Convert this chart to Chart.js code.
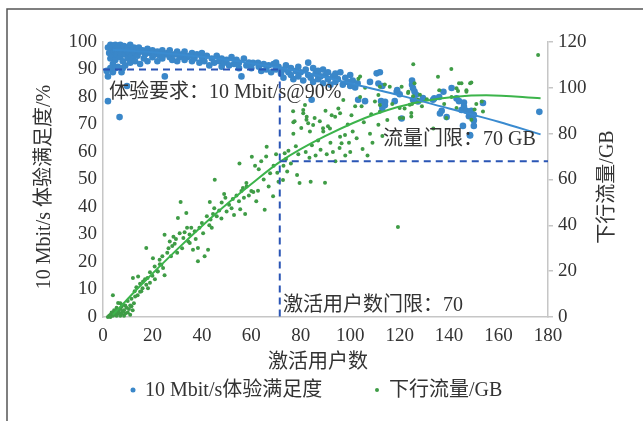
<!DOCTYPE html>
<html>
<head>
<meta charset="utf-8">
<script src="https://cdn.jsdelivr.net/npm/chart.js@4/dist/chart.umd.min.js"></script>
<style>
  html, body { margin: 0; padding: 0; background: #fff; }
  #wrap { width: 643px; height: 421px; }
</style>
</head>
<body>
<div id="wrap"><canvas id="myChart" width="643" height="421"></canvas></div>
<script>
// 10 Mbit/s satisfaction (%) against active users
var satisfactionPoints = [
  [2,98],[2.5,96],[3,99],[3,94],[3.5,97],[4,98.5],[4,95],[4,92],[4.5,96.5],[5,99],[5,97],[5,93.5],
  [5.5,95.5],[6,98],[6,96],[6,91],[6.5,97.5],[7,94.5],[7,99],[7.5,96],[8,97.5],[8,93],[8.5,98.5],
  [9,95.5],[9,91.5],[9.5,97],[10,98],[10,94],[10.5,96],[11,99],[11,92.5],[11.5,95],[12,97],[12,94],
  [12.5,98],[13,96],[13,93],[13.5,97.5],[14,95],[14.5,98],[15,96.5],[15,92],
  [2,78.5],[2,87.5],[1.5,89.5],[4,89],[6.7,72.7],[7.5,89],[9.7,84],[3,90.5],[5,90.5],[8,90.5],
  [16,97],[16.5,94],[17,95.5],[18,97.5],[18,93],[19,96],[20,94.5],[20,97],[21,95.5],[22,96.5],
  [22,93],[23,95],[24,97],[24,94],[25,95.5],[25,87.5],[26,96],[27,94.5],[27,97],[28,93.5],[29,95.5],
  [30,96.5],[30,93],[31,94.5],[32,95.5],[33,93.5],[33,96.5],[34,94.5],[35,95],[36,93],[36,96],
  [37,94],[38,95.5],[39,92.5],[40,94.5],[40,96],
  [41,93],[42,95],[43,91.5],[44,94],[45,92.5],[46,95],[47,93],[48,91],[48,94],[49,92.5],[50,93.5],
  [51,91.5],[52,94.5],[53,92],[54,93.5],[55,90.5],[55,92.5],[56,87.5],[57,94],[58,91.5],[59,92.5],
  [60,90.5],[60.7,92.4],[62.7,92.4],[63,91],[64,89.5],[65,92],[66,90],[67,91.5],[68,89],[69,92],
  [70,92.5],[70,90],
  [71,91],[72,88.5],[73,90],[73,87],[74,91.5],[75,89],[76,88],[76,90.5],[77,86.5],[78,89.5],[79,91],
  [79,87.5],[80,89],[81,86],[82,90],[83,92.5],[83,88],[84,87],[84.4,79],[85,90.5],[85,85.5],[86,88.5],
  [87,89.5],[87,86.5],[88,87.5],[89,90],[89,85],[90,88],[91,86.5],[91,89],[92,84.5],[93,87.5],
  [94,88.5],[94,85.5],[95,86.5],[96,89],[97,84.5],[98,87],[99,85.5],[100,88],[100,84],[101,86],
  [102,83.5],[103,85],[103.2,79],[106,78.5],
  [108,85.5],[110.7,88.6],[112,89],[111.4,84.9],[113,84],[112.5,78.5],[113,76],[114,77],[114.1,78.3],
  [118,78.5],[118.8,81.9],[119,82.5],[120,81],[120.8,72.2],[125,86],[125,84.5],[125.4,83.2],[126,82],
  [126.7,80.8],[125.4,79],[127.4,78.4],[129.4,79.6],
  [133.5,79],[134,79.5],[136,80],[136.3,74],[137,75],[137.7,81.9],[139,72.7],[141,83.3],[143,79.5],
  [144,78.5],[145,75.3],[146,78],[146,76.5],[147,75],[148,73],[148.4,66.2],[149,75],[150,73.5],
  [150,71.5],[150,69.5],[145.6,69.5],[148.5,66],[153.7,77.8],[176.5,74.6]
];

// downlink traffic (GB) against active users
var trafficPoints = [
  [2,0],[2.5,0.5],[3,1],[3,0],[3.5,2],[4,0.5],[4,1.5],[4,9.5],[4.5,3],[5,1],[5,2.5],[5.5,0.5],
  [5.5,4],[6,1.5],[6,3],[6.1,6.1],[6.5,2],[7,0.5],[7,3.5],[7,6],[7.5,1.5],[7.5,4.5],[8,2.5],[8.1,5.4],
  [8.5,0.5],[8.5,3],[9,5],[9,1.5],[9.5,4],[10,2],[10,7],[10.5,3.5],[11,5],[11,1],[11.5,4.7],[11.5,8],
  [12,3],[12.1,17],[12.5,6],[12.8,11.2],[13,9],
  [13.5,13],[14,9.5],[14.2,17.7],[15,11],[15,14.5],[15.5,11.2],[16,12.5],[16.2,15.5],[17,16.5],
  [17.5,14.1],[17.5,30.1],[18,17],[18.2,12.6],[19,15],[19,19.5],[20,18],[20.2,25.6],[20.9,22],
  [21,16.5],[22,20],[22.2,19.9],[22.9,25],[23,23],[23.6,22.8],[24,26.5],[24.3,21.4],[24.9,18.2],
  [24.9,35.9],
  [26,28],[26.5,30],[27,33],[27.5,26.5],[28,31],[28.5,35],[29,32],[29.5,34],[30,28],[30.3,43.2],
  [31,36.5],[31.4,50.2],[32,30],[32.5,34.5],[33,37],[33.7,45.4],[34,39],[34.5,33],[35,36],[35.1,32.3],
  [35.7,38.9],[36.4,29.4],[37.1,37.4],[37.5,34],[38.4,30.1],[38.4,24.3],[39,39],[40,41],[40.5,36.5],
  [41.1,26.5],[42,44],[42.5,29.4],[43,40],[43.2,50.2],[43.5,42.5],[44,38.9],[44.5,45],[45,47.5],
  [45.2,59.9],
  [46,44],[47,46.5],[47.9,43],[48,50],[49,53.7],[49.5,52],[50,46],[51,49],[52,47.5],[52.5,51.5],
  [53,44.5],[54,53],[55,50.5],[55.2,67],[55.5,47],[56,55],[56.6,56.3],[57,52],[57.5,45],[58,58.5],
  [58.1,56.9],[59,53],[60,55],[60.2,69.9],[60.8,54.6],[61.5,66],[62,50.5],[62.7,55.1],[63,64.5],
  [64,68],[65,60],[65.4,46.8],[66,70],[66.2,74.3],[67,57],[67.6,62.7],[68.8,52.7],[69,66],[70,71],
  [70.5,63],[71,59],
  [72.8,59.8],[73,66],[73.5,71.5],[74,69],[74.5,63.5],[75,72.5],[76,67],[76.9,89.8],[77,80],[77,85],
  [77.5,85.4],[78,74.5],[78.5,62],[79,71],[79.5,58.5],[80.2,82.5],[81,88.9],[81,90.3],[81.7,92.5],
  [82,72],[82.3,86.1],[82.4,87.4],[83,84.5],[83.5,69.5],[83.7,80.9],[84,59],[84.5,75],[85,83.8],
  [85.6,86.8],[86,70.5],[87,77],[87.7,85.4],[88,73],[89,82.4],[89.1,80.9],[89.8,58.6],[90,90],
  [90.5,71],[91,83.2],[91.8,82.3],[92,76],[92.5,88],[93,72],[93.9,87.4],[94,68],[95.2,91],[95.7,73.7],
  [95.9,78.7],[95.9,88.9],[96.5,75.8],[97.2,94.7],[97.9,79.4],[98,70.5],[99,84],[99.5,76],
  [100,72],[100.5,88],[101,81],[102,92],[102.6,78],[103.3,104],[104,105],[104,96],[104.6,92],
  [105,73.3],[105.5,85],[106,100],[107,70.5],[108,80],[108.5,88.5],[109,76],[110,94],[111.4,96.9],
  [111.4,83.9],[112,100.5],[112,92.5],[112,89.6],[113,79],[114,101.5],[115,86],[116,100.5],[117,93],
  [119.3,39.3],[120,91.2],[120,86.8],[120.8,100.5],[121.4,86.8],[122,91],[123.4,97.7],[123.5,98.3],
  [124.1,92.6],[124.7,89],[124.7,87.5],[125,93],[125.5,110.3],[125.4,96.3],[126,102],[127.4,94.8],
  [128.2,97],[129,92],
  [131,95],[133.6,82.3],[135.5,104.8],[136,99],[138,93],[138.9,86.8],[140.9,108.2],[141,96],
  [143,91.2],[143,99.8],[143.6,98.6],[144,102],[145,102],[147,98.9],[147,98.3],[148.5,102],
  [149,102.3],[149,86.1],[150.3,90.5],[151,93],[153.7,89.7],[153.2,94],[176,114.3]
];

// trend lines
var trendUsers = [4, 20, 40, 60, 80, 100, 120, 140, 160, 177];
var satisfactionTrend = [97.2, 96.3, 94.6, 92.3, 89.2, 85.0, 80.6, 75.8, 71.0, 66.4];
var trafficTrendUsers = [4, 15, 30, 45, 60, 72, 90, 110, 130, 155, 177];
var trafficTrend = [1, 13.5, 29.5, 44.5, 58, 68, 79, 88.5, 94.3, 96.8, 95.5];

// thresholds (dashed guides)
var userLimit = 71.5;
var satisfactionReq = 90;
var trafficLimit = 68;

var userTicks = [0, 180, 20];
var pctTicks = [0, 100, 10];
var gbTicks = [0, 120, 20];

var blue = "#3a87c9";
var green = "#3f9c46";
var dashBlue = "#2a55b5";
var textColor = "#333";
var axisGray = "#c6c6c6";
var serif = '"Liberation Serif", "Noto Sans CJK SC", serif';

function toXY(p) { return {x: p[0], y: p[1]}; }
function zipXY(xs, ys) { return xs.map(function (x, i) { return {x: x, y: ys[i]}; }); }

var decorations = {
  id: "decorations",
  afterDraw: function (chart) {
    var ctx = chart.ctx;
    ctx.save();
    // frame (only top and left edges show)
    ctx.strokeStyle = "#555";
    ctx.lineWidth = 1.5;
    ctx.beginPath();
    ctx.moveTo(7, 440);
    ctx.lineTo(7, 9);
    ctx.lineTo(660, 9);
    ctx.stroke();

    ctx.fillStyle = textColor;
    ctx.font = "20px " + serif;
    ctx.textBaseline = "middle";
    ctx.textAlign = "left";
    ctx.fillText("体验要求：10 Mbit/s@90%", 109, 93);
    ctx.fillText("流量门限：70 GB", 383, 140);
    ctx.fillText("激活用户数门限：70", 283, 306);

    ctx.textAlign = "center";
    ctx.fillText("激活用户数", 318, 363);

    ctx.save();
    ctx.translate(45, 187);
    ctx.rotate(-Math.PI / 2);
    ctx.fillText("10 Mbit/s 体验满足度/%", 0, 0);
    ctx.restore();

    ctx.save();
    ctx.translate(608, 187);
    ctx.rotate(-Math.PI / 2);
    ctx.fillText("下行流量/GB", 0, 0);
    ctx.restore();

    // legend
    ctx.textAlign = "left";
    ctx.fillStyle = blue;
    ctx.beginPath(); ctx.arc(133, 390, 2.5, 0, Math.PI * 2); ctx.fill();
    ctx.fillStyle = green;
    ctx.beginPath(); ctx.arc(377, 390, 2, 0, Math.PI * 2); ctx.fill();
    ctx.fillStyle = textColor;
    ctx.fillText("10 Mbit/s体验满足度", 145, 391);
    ctx.fillText("下行流量/GB", 389, 391);
    ctx.restore();
  }
};

var tickFont = {family: serif, size: 19};

new Chart("myChart", {
  type: "scatter",
  data: {
    datasets: [
      {
        type: "line", data: [{x: 0, y: satisfactionReq}, {x: userLimit, y: satisfactionReq}],
        yAxisID: "y", borderColor: dashBlue, borderWidth: 2, borderDash: [7, 5],
        pointRadius: 0, order: -3, clip: false
      },
      {
        type: "line", data: [{x: userLimit, y: satisfactionReq}, {x: userLimit, y: 0}],
        yAxisID: "y", borderColor: dashBlue, borderWidth: 2, borderDash: [7, 5],
        pointRadius: 0, order: -3, clip: false
      },
      {
        type: "line", data: [{x: userLimit, y: trafficLimit}, {x: userTicks[1], y: trafficLimit}],
        yAxisID: "y2", borderColor: dashBlue, borderWidth: 2, borderDash: [7, 5],
        pointRadius: 0, order: -3, clip: false
      },
      {
        type: "line", data: zipXY(trendUsers, satisfactionTrend), yAxisID: "y",
        borderColor: "#3a8bd0", borderWidth: 2, pointRadius: 0, tension: 0.4,
        cubicInterpolationMode: "monotone", order: -2
      },
      {
        type: "line", data: zipXY(trafficTrendUsers, trafficTrend), yAxisID: "y2",
        borderColor: "#3cb44b", borderWidth: 2, pointRadius: 0, tension: 0.4,
        cubicInterpolationMode: "monotone", order: -1
      },
      {
        label: "10 Mbit/s体验满足度", data: satisfactionPoints.map(toXY), yAxisID: "y",
        backgroundColor: blue, borderWidth: 0, pointRadius: 3.3, order: 1, clip: false
      },
      {
        label: "下行流量/GB", data: trafficPoints.map(toXY), yAxisID: "y2",
        backgroundColor: green, borderWidth: 0, pointRadius: 2, order: 0, clip: false
      }
    ]
  },
  options: {
    responsive: false,
    animation: false,
    devicePixelRatio: 1,
    layout: {padding: {top: 42, left: 0, right: 0, bottom: 0}},
    plugins: {legend: {display: false}, tooltip: {enabled: false}},
    scales: {
      x: {
        type: "linear", min: userTicks[0], max: userTicks[1],
        ticks: {stepSize: userTicks[2], color: textColor, font: tickFont, padding: 8},
        grid: {display: false, drawTicks: false},
        border: {display: true, color: axisGray, width: 1.5},
        afterFit: function (s) { s.height = 104; }
      },
      y: {
        position: "left", min: pctTicks[0], max: pctTicks[1],
        ticks: {stepSize: pctTicks[2], color: textColor, font: tickFont, padding: 6},
        grid: {display: false, drawTicks: false},
        border: {display: true, color: axisGray, width: 1.5},
        afterFit: function (s) { s.width = 103; }
      },
      y2: {
        position: "right", min: gbTicks[0], max: gbTicks[1],
        ticks: {stepSize: gbTicks[2], color: textColor, font: tickFont, padding: 5},
        grid: {display: true, drawOnChartArea: false, drawTicks: true, tickLength: 5, color: axisGray, lineWidth: 1.5},
        border: {display: true, color: axisGray, width: 1.5},
        afterFit: function (s) { s.width = 95; }
      }
    }
  },
  plugins: [decorations]
});
</script>
</body>
</html>
